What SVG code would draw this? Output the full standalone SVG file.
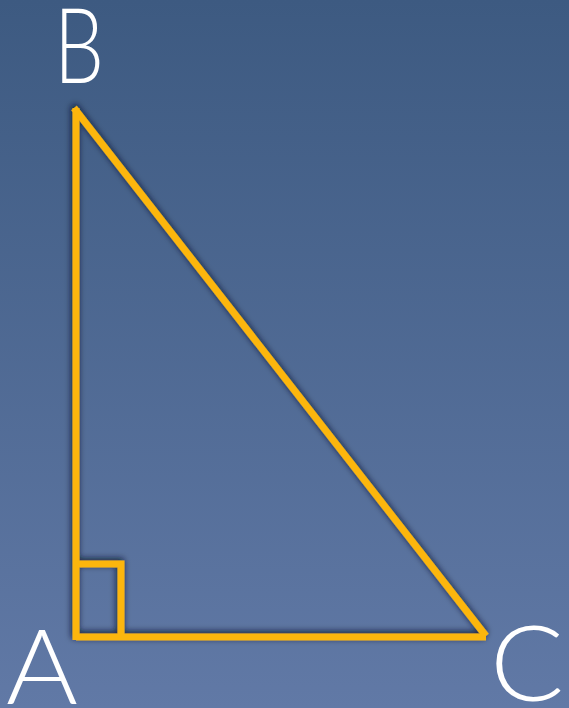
<svg xmlns="http://www.w3.org/2000/svg" width="569" height="708" viewBox="0 0 569 708">
<defs>
<linearGradient id="bg" x1="0" y1="0" x2="0" y2="1">
<stop offset="0" stop-color="#3d5a81"/>
<stop offset="1" stop-color="#6179a6"/>
</linearGradient>
<filter id="sh" x="-20%" y="-20%" width="140%" height="140%">
<feGaussianBlur in="SourceAlpha" stdDeviation="3"/>
<feOffset dx="-1" dy="-2" result="b"/>
<feFlood flood-color="#0d1425" flood-opacity="0.85"/>
<feComposite in2="b" operator="in"/>
<feMerge><feMergeNode/><feMergeNode in="SourceGraphic"/></feMerge>
</filter>
<style>
.edge{stroke:#fcb60f;stroke-width:7;fill:none;stroke-linecap:butt}
.lbl{font-family:"Lato","Liberation Sans",sans-serif;font-weight:300;font-size:104px;fill:#ffffff}
</style>
</defs>
<rect width="569" height="708" fill="url(#bg)"/>
<g id="connectors" filter="url(#sh)">
<line class="edge" x1="76" y1="108" x2="76" y2="640"/>
<line class="edge" x1="76" y1="637" x2="486" y2="637"/>
<line class="edge" x1="74" y1="108" x2="486" y2="636"/>
<polyline class="edge" points="76,564 121,564 121,637"/>
</g>
<g id="node-B"><text class="lbl" x="54" y="83" textLength="50" lengthAdjust="spacingAndGlyphs">B</text></g>
<g id="node-A"><text class="lbl" x="6" y="704" textLength="72" lengthAdjust="spacingAndGlyphs">A</text></g>
<g id="node-C"><text class="lbl" x="490" y="701" textLength="74" lengthAdjust="spacingAndGlyphs">C</text></g>
</svg>
